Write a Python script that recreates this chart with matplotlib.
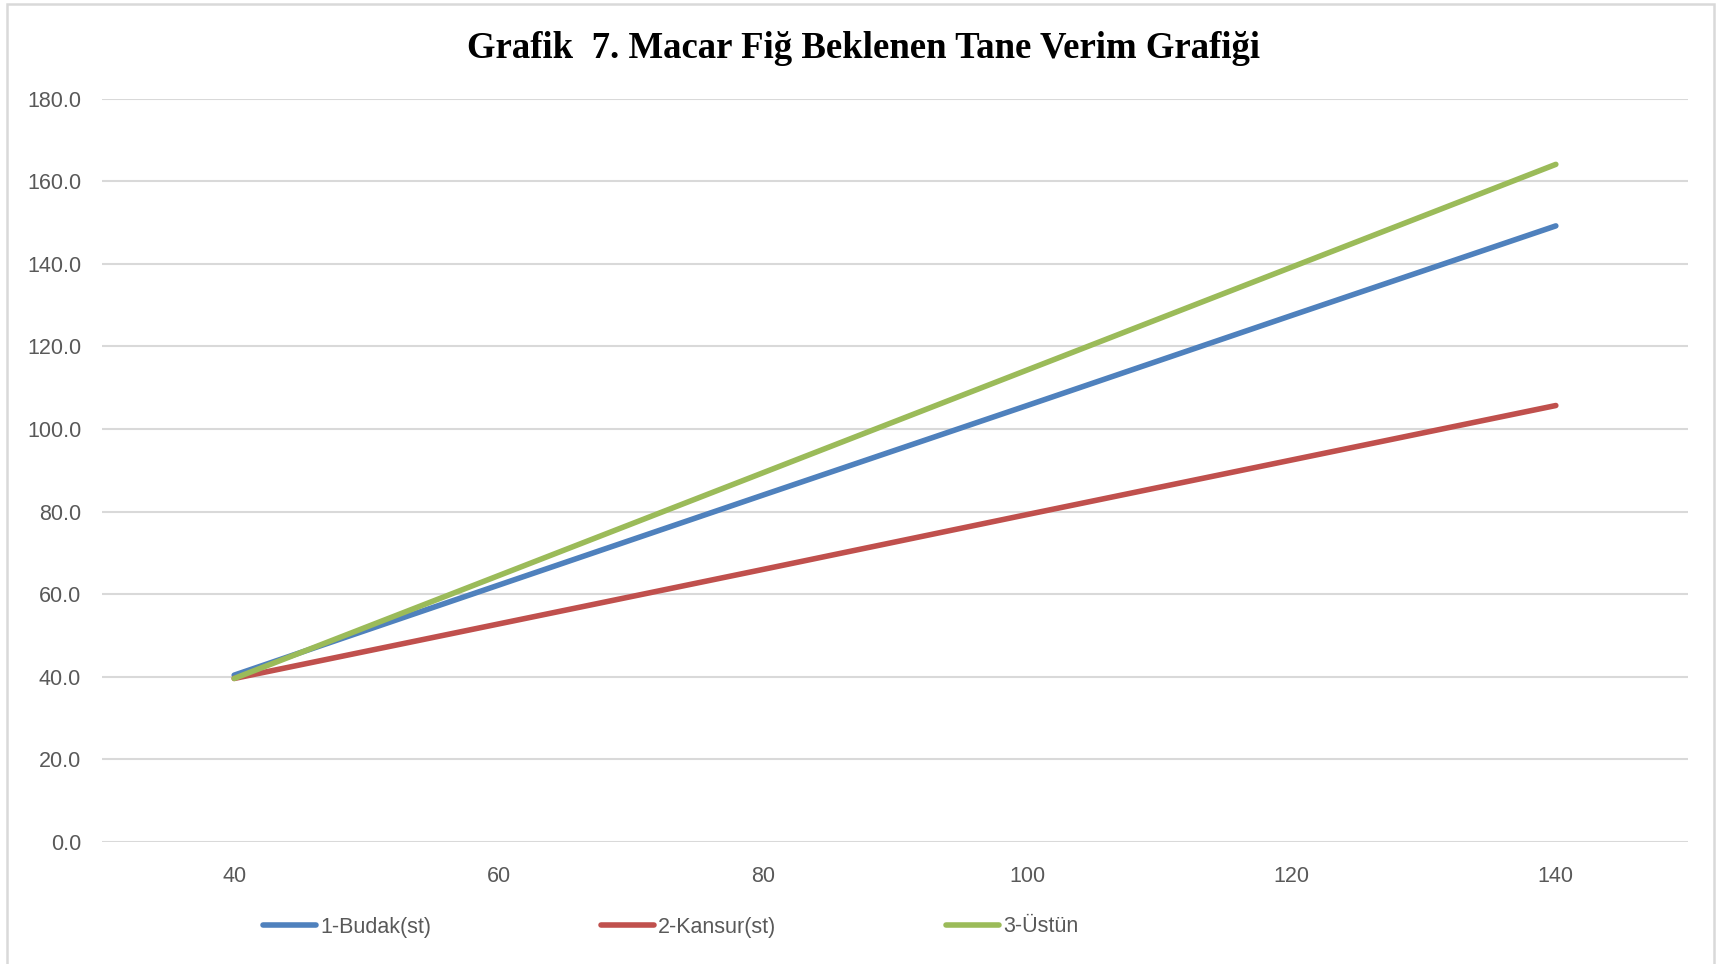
import matplotlib
matplotlib.use("Agg")
import matplotlib.pyplot as plt
from matplotlib.patches import Rectangle

x_values = [40, 60, 80, 100, 120, 140]
budak = [40.4, 62.2, 84.0, 105.7, 127.5, 149.2]
kansur = [39.6, 52.8, 66.0, 79.3, 92.5, 105.7]
ustun = [39.6, 64.5, 89.4, 114.3, 139.2, 164.1]
series_names = ["1-Budak(st)", "2-Kansur(st)", "3-Üstün"]
colors = ["#4F81BD", "#C0504D", "#9BBB59"]
x_ticks = [40, 60, 80, 100, 120, 140]
y_ticks = [0, 20, 40, 60, 80, 100, 120, 140, 160, 180]
title = "Grafik  7. Macar Fiğ Beklenen Tane Verim Grafiği"

W, H = 1719, 964
fig = plt.figure(figsize=(W / 100, H / 100), dpi=100)
fig.patch.set_facecolor("white")

# outer chart border
fig.patches.append(Rectangle((7 / W, -0.02), (1714 - 7) / W, 1.02 - 4 / H,
                             transform=fig.transFigure, fill=False,
                             edgecolor="#D9D9D9", linewidth=1.8, zorder=0))

left, right = 102 / W, 1688 / W
bottom, top = 1 - 842 / H, 1 - 98.7 / H
ax = fig.add_axes([left, bottom, right - left, top - bottom])

for ys, name, c in zip([budak, kansur, ustun], series_names, colors):
    ax.plot(x_values, ys, color=c, linewidth=4.0, solid_capstyle="round",
            label=name, zorder=3)

ax.set_xlim(30, 150)
ax.set_ylim(0, 180)
ax.set_xticks(x_ticks)
ax.set_yticks(y_ticks)
ax.set_yticklabels([f"{v:.1f}" for v in y_ticks])
ax.set_xticklabels([str(v) for v in x_ticks])
ax.grid(axis="y", color="#D9D9D9", linewidth=1.5, zorder=0)
ax.set_axisbelow(True)
for s in ax.spines.values():
    s.set_visible(False)
ax.tick_params(axis="both", length=0, labelsize=15.5, colors="#595959",
               labelfontfamily="Liberation Sans")
ax.tick_params(axis="y", pad=15)
ax.tick_params(axis="x", pad=17)

fig.text(863 / W, 1 - 49 / H, title, ha="center", va="center",
         fontsize=26.5, fontweight="bold", family="Liberation Serif", color="black")

leg = ax.legend(loc="center left", bbox_to_anchor=(263 / W, 1 - 927 / H),
                bbox_transform=fig.transFigure, ncol=3, frameon=False,
                prop={"family": "Liberation Sans", "size": 15.5},
                handlelength=2.45, handletextpad=0.2, columnspacing=7.9,
                borderpad=0, borderaxespad=0)
for t in leg.get_texts():
    t.set_color("#595959")

fig.savefig("out.png", dpi=100, facecolor="white")
